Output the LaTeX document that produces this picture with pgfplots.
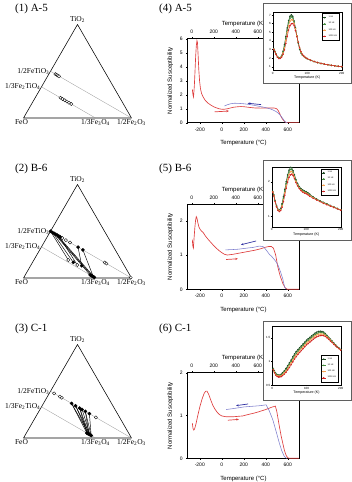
\documentclass[border=0pt]{standalone}
\usepackage{fontspec}
\setmainfont{Liberation Serif}
\setsansfont{Liberation Sans}
\usepackage{pgfplots}
\pgfplotsset{compat=1.18}
\usetikzlibrary{arrows.meta}

\definecolor{heat}{RGB}{222,62,62}
\definecolor{cool}{RGB}{125,125,205}
\definecolor{coolarrow}{RGB}{45,45,160}
\definecolor{hzA}{RGB}{30,75,35}
\definecolor{hzB}{RGB}{70,140,65}
\definecolor{hzC}{RGB}{245,160,80}
\definecolor{hzD}{RGB}{210,35,35}
\definecolor{frameg}{RGB}{95,95,95}
\definecolor{guide}{RGB}{150,150,150}

\tikzset{tlab/.style={font=\fontsize{7.5}{8}\selectfont, inner sep=1pt}}

\pgfplotsset{
  tern/.style={scale only axis, anchor=south west, width=108pt, height=93.5pt,
    xmin=0, xmax=1, ymin=0, ymax=0.866, hide axis, clip=false},
  openpt/.style={only marks, mark=*, mark size=1.6pt,
    mark options={fill=white, draw=black, line width=0.35pt}, forget plot},
  fillpt/.style={only marks, mark=*, mark size=1.6pt,
    mark options={fill=black, draw=black}, forget plot},
  tie/.style={black, line width=0.45pt, forget plot},
  mainax/.style={scale only axis, anchor=south west, width=111.6pt,
    xmin=-310, xmax=705, xtick={-200,0,200,400,600},
    xtick pos=left, ytick pos=left, tick align=outside, major tick length=1.5pt,
    tick style={line width=0.4pt, black}, axis line style={line width=0.45pt},
    tick label style={font=\sffamily\fontsize{5}{6}\selectfont},
    label style={font=\sffamily\fontsize{6}{7}\selectfont},
    /pgf/number format/assume math mode=true,
    xlabel={Temperature (°C)}, ylabel={Normalized Susceptibility},
    xlabel style={at={(axis description cs:0.5,0)}, anchor=center, yshift=-20.5pt},
    ylabel style={at={(axis description cs:-0.155,0.5)}, anchor=center}},
  topax/.style={scale only axis, anchor=south west, width=111.6pt,
    xmin=-37, xmax=978, ymin=0, ymax=1,
    axis x line=top, axis y line=none, x axis line style={-, line width=0.45pt},
    xtick={0,200,400,600}, tick align=outside, major tick length=1.5pt,
    tick style={line width=0.4pt, black},
    tick label style={font=\sffamily\fontsize{5}{6}\selectfont},
    label style={font=\sffamily\fontsize{6}{7}\selectfont},
    /pgf/number format/assume math mode=true,
    xlabel={Temperature (K)},
    xlabel style={at={(axis description cs:0.5,1)}, anchor=center, yshift=14.5pt}},
  insetax/.style={scale only axis, anchor=south west, xmin=0, xmax=200,
    xtick={0,100,200}, xtick pos=left, ytick pos=left, tick align=outside,
    major tick length=1pt, tick style={line width=0.3pt, black},
    axis line style={line width=0.35pt},
    tick label style={font=\sffamily\fontsize{3}{3.5}\selectfont, inner sep=0.8pt},
    label style={font=\sffamily\fontsize{3.6}{4}\selectfont},
    /pgf/number format/assume math mode=true,
    xlabel={Temperature (K)},
    xlabel style={at={(axis description cs:0.5,0)}, anchor=center, yshift=-8pt},
    legend style={font=\sffamily\fontsize{2.2}{2.6}\selectfont, draw=black,
      line width=0.25pt, inner sep=0.6pt, row sep=-0.8pt, cells={anchor=west}},
    legend image code/.code={\draw[mark repeat=2, mark phase=2, #1]
      plot coordinates {(0pt,0pt) (1.8pt,0pt) (3.6pt,0pt)};},
    every axis plot/.append style={line width=0.45pt, mark=*, mark size=0.5pt}},
  heating/.style={heat, line width=0.65pt},
  cooling/.style={cool, line width=0.55pt},
}

% triangle FeO - 1/2Fe2O3 - TiO2 with the two solid-solution joins
\newcommand{\ternframe}{%
  \addplot[black, line width=0.55pt, line join=round, forget plot]
    coordinates {(0,0) (1,0) (0.5,0.866) (0,0)};
  \addplot[guide, line width=0.3pt, forget plot] coordinates {(0.25,0.433) (1,0)};
  \addplot[guide, line width=0.3pt, forget plot] coordinates {(0.16667,0.28868) (0.66667,0)};
  \node[tlab, anchor=south, yshift=0.5pt] at (axis cs:0.5,0.866) {TiO\textsubscript{2}};
  \node[tlab, anchor=east] at (axis cs:0.25,0.433) {1/2FeTiO\textsubscript{3}};
  \node[tlab, anchor=east] at (axis cs:0.16667,0.28868) {1/3Fe\textsubscript{2}TiO\textsubscript{4}};
  \node[tlab, anchor=north, xshift=-2pt] at (axis cs:0,0) {FeO};
  \node[tlab, anchor=north] at (axis cs:0.66667,0) {1/3Fe\textsubscript{3}O\textsubscript{4}};
  \node[tlab, anchor=north] at (axis cs:1,0) {1/2Fe\textsubscript{2}O\textsubscript{3}};
}

\begin{document}
\begin{tikzpicture}
\path[use as bounding box] (0pt,0pt) rectangle (352pt,-482pt);

% ---------- panel titles ----------
\foreach \yy/\lt/\rt in {8.5/{(1) A-5}/{(4) A-5}, 168.5/{(2) B-6}/{(5) B-6}, 328.5/{(3) C-1}/{(6) C-1}}{
  \node[anchor=west, inner sep=0pt, font=\fontsize{11}{12}\selectfont] at (15pt,-\yy pt) {\lt};
  \node[anchor=west, inner sep=0pt, font=\fontsize{11}{12}\selectfont] at (159pt,-\yy pt) {\rt};
}

% ---------- (1) A-5 ternary ----------
\begin{axis}[tern, at={(23.5pt,-118pt)}]
\ternframe
\addplot[openpt] coordinates {(0.2950,0.4070) (0.3063,0.4005) (0.3175,0.3940) (0.3288,0.3875)};
\addplot[openpt] coordinates {(0.3417,0.1877) (0.3617,0.1761) (0.3817,0.1646) (0.4017,0.1530) (0.4217,0.1415) (0.4417,0.1299)};
\end{axis}

% ---------- (2) B-6 ternary ----------
\begin{axis}[tern, at={(23.5pt,-278pt)}]
\ternframe
\addplot[tie] coordinates {(0.2500,0.4330) (0.415,0.167)};
\addplot[tie] coordinates {(0.2688,0.4222) (0.461,0.145)};
\addplot[tie] coordinates {(0.2838,0.4135) (0.6167,0.0289)};
\addplot[tie] coordinates {(0.2988,0.4049) (0.6367,0.0173)};
\addplot[tie] coordinates {(0.3138,0.3962) (0.6567,0.0058)};
\addplot[tie] coordinates {(0.3288,0.3875) (0.498,0.120)};
\addplot[tie] coordinates {(0.5050,0.2858) (0.539,0.114)};
\addplot[tie] coordinates {(0.5500,0.2598) (0.6467,0.0115)};
\addplot[openpt] coordinates {(0.3588,0.3702) (0.3925,0.3507) (0.4300,0.3291) (0.7525,0.1429) (0.7675,0.1342) (0.9925,0.0043) (0.415,0.167) (0.498,0.120)};
\addplot[fillpt] coordinates {(0.2500,0.4330) (0.2688,0.4222) (0.2838,0.4135) (0.2988,0.4049) (0.3138,0.3962) (0.3288,0.3875) (0.3400,0.3810) (0.5050,0.2858) (0.5500,0.2598) (0.461,0.145) (0.539,0.114)};
\addplot[fillpt] coordinates {(0.6167,0.0289) (0.6267,0.0231) (0.6367,0.0173) (0.6467,0.0115) (0.6567,0.0058)};
\end{axis}

% ---------- (3) C-1 ternary ----------
\begin{axis}[tern, at={(23.5pt,-438pt)}]
\ternframe
\addplot[tie] coordinates {(0.4450,0.3204) (0.5867,0.0462)};
\addplot[tie] coordinates {(0.4450,0.3204) (0.6067,0.0346)};
\addplot[tie] coordinates {(0.4825,0.2988) (0.5967,0.0404)};
\addplot[tie] coordinates {(0.4825,0.2988) (0.6167,0.0289)};
\addplot[tie] coordinates {(0.5200,0.2771) (0.6067,0.0346)};
\addplot[tie] coordinates {(0.5200,0.2771) (0.5867,0.0462)};
\addplot[tie] coordinates {(0.5425,0.2641) (0.6167,0.0289)};
\addplot[tie] coordinates {(0.5725,0.2468) (0.6267,0.0231)};
\addplot[tie] coordinates {(0.5725,0.2468) (0.6067,0.0346)};
\addplot[tie] coordinates {(0.6100,0.2252) (0.6267,0.0231)};
\addplot[openpt] coordinates {(0.2838,0.4135) (0.3363,0.3832) (0.3550,0.3724) (0.6700,0.1905)};
\addplot[fillpt] coordinates {(0.4450,0.3204) (0.4825,0.2988) (0.5200,0.2771) (0.5425,0.2641) (0.5725,0.2468) (0.6100,0.2252)};
\addplot[fillpt] coordinates {(0.5867,0.0462) (0.5967,0.0404) (0.6067,0.0346) (0.6167,0.0289) (0.6267,0.0231)};
\end{axis}

% ================= (4) A-5 thermomagnetic curve =================
\begin{axis}[mainax, at={(187.7pt,-122.7pt)}, height=84.2pt, ymin=0, ymax=6.05, ytick={0,1,2,3,4,5,6}]
\addplot[heating] coordinates {
(-268,2.4) (-262,2.0) (-257,1.85) (-250,2.6) (-244,3.6) (-238,4.7) (-232,5.5) (-226,5.9)
(-221,5.75) (-215,4.8) (-209,3.8) (-202,3.0) (-194,2.45) (-184,2.1) (-170,1.85) (-150,1.6)
(-125,1.4) (-100,1.27) (-75,1.15) (-50,1.07) (-25,1.0) (0,0.97) (25,0.97) (50,1.0) (75,1.05)
(100,1.1) (125,1.13) (150,1.15) (175,1.16) (200,1.15) (250,1.1) (300,1.06) (350,1.05)
(400,1.06) (450,1.06) (480,1.05) (500,1.0) (515,0.85) (530,0.6) (545,0.35) (560,0.17)
(575,0.05) (590,0.0) (700,0)};
\addplot[cooling] coordinates {
(595,0) (585,0.02) (570,0.12) (555,0.3) (535,0.5) (515,0.68) (494,0.8) (470,0.9) (445,0.98)
(420,1.04) (390,1.1) (350,1.16) (300,1.24) (250,1.31) (200,1.36) (150,1.39) (115,1.4)
(80,1.36) (50,1.29) (25,1.2)};
\addplot[coolarrow, line width=0.7pt, -{Stealth[length=2.6pt,width=2.2pt]}] coordinates {(357,1.30) (236,1.40)};
\addplot[heat, line width=0.7pt, -{Stealth[length=2.6pt,width=2.2pt]}] coordinates {(-65,0.78) (65,0.84)};
\end{axis}
\begin{axis}[topax, at={(187.7pt,-122.7pt)}, height=84.2pt]
\end{axis}
\draw[fill=white, draw=frameg, line width=0.8pt] (263.3pt,-3.3pt) rectangle (351pt,-83.3pt);
\begin{axis}[insetax, at={(272.7pt,-70pt)}, width=69pt, height=58.3pt,
  ymin=0.62, ymax=7.38, ytick={1,2,3,4,5,6,7},
  legend style={at={(0.97,0.97)}, anchor=north east}]
\addplot[hzA] coordinates {(3,3.05) (6,2.8) (10,2.45) (14,2.15) (18,2.0) (22,2.05) (26,2.3) (30,2.8) (34,3.55) (38,4.5) (42,5.5) (46,6.35) (50,6.85) (54,7.02) (58,6.85) (62,6.3) (66,5.5) (70,4.6) (74,3.75) (78,3.0) (82,2.6) (86,2.35) (90,2.2) (95,2.05) (100,1.93) (110,1.74) (120,1.6) (130,1.48) (140,1.38) (150,1.3) (160,1.23) (170,1.16) (180,1.1) (190,1.05) (200,1.01)};
\addplot[hzB] coordinates {(3,3.05) (6,2.8) (10,2.45) (14,2.15) (18,2.0) (22,2.04) (26,2.27) (30,2.72) (34,3.4) (38,4.3) (42,5.25) (46,6.1) (50,6.6) (54,6.78) (58,6.68) (62,6.2) (66,5.45) (70,4.6) (74,3.8) (78,3.1) (82,2.65) (86,2.38) (90,2.2) (95,2.05) (100,1.93) (110,1.74) (120,1.6) (130,1.48) (140,1.38) (150,1.3) (160,1.23) (170,1.16) (180,1.1) (190,1.05) (200,1.01)};
\addplot[hzC] coordinates {(3,3.02) (6,2.78) (10,2.43) (14,2.13) (18,1.97) (22,2.0) (26,2.2) (30,2.6) (34,3.2) (38,4.05) (42,4.95) (46,5.75) (50,6.25) (54,6.45) (58,6.42) (62,6.05) (66,5.4) (70,4.6) (74,3.85) (78,3.15) (82,2.7) (86,2.4) (90,2.22) (95,2.06) (100,1.94) (110,1.75) (120,1.6) (130,1.48) (140,1.38) (150,1.3) (160,1.23) (170,1.16) (180,1.1) (190,1.05) (200,1.01)};
\addplot[hzD] coordinates {(3,3.0) (6,2.75) (10,2.4) (14,2.1) (18,1.95) (22,1.97) (26,2.12) (30,2.45) (34,2.95) (38,3.7) (42,4.5) (46,5.25) (50,5.75) (54,5.98) (58,6.0) (62,5.75) (66,5.2) (70,4.5) (74,3.85) (78,3.2) (82,2.75) (86,2.45) (90,2.25) (95,2.08) (100,1.95) (110,1.76) (120,1.61) (130,1.49) (140,1.39) (150,1.3) (160,1.23) (170,1.16) (180,1.1) (190,1.05) (200,1.01)};
\legend{1 Hz, 10 Hz, 100 Hz, 1000 Hz}
\end{axis}

% ================= (5) B-6 thermomagnetic curve =================
\begin{axis}[mainax, at={(187.7pt,-289.3pt)}, height=85pt, ymin=0, ymax=2.48, ytick={0,1,2}]
\addplot[heating] coordinates {
(-268,1.45) (-263,1.25) (-258,1.2) (-252,1.5) (-245,1.8) (-238,2.02) (-232,2.12) (-226,2.08)
(-218,1.95) (-208,1.82) (-197,1.75) (-185,1.7) (-170,1.66) (-150,1.56) (-125,1.46) (-100,1.37)
(-75,1.28) (-50,1.2) (-25,1.13) (0,1.07) (25,1.02) (50,1.0) (100,1.02) (150,1.05) (200,1.08)
(250,1.11) (300,1.14) (350,1.18) (400,1.23) (430,1.25) (450,1.25) (470,1.2) (490,1.0)
(510,0.65) (530,0.4) (555,0.17) (575,0.05) (595,0) (700,0)};
\addplot[cooling] coordinates {
(585,0) (570,0.08) (555,0.3) (535,0.5) (515,0.68) (494,0.8) (470,0.9) (450,0.97) (433,1.02)
(410,1.12) (390,1.2) (373,1.25) (340,1.26) (312,1.24) (280,1.22) (250,1.21) (200,1.19)
(150,1.17) (100,1.16) (33,1.15)};
\addplot[coolarrow, line width=0.7pt, -{Stealth[length=2.6pt,width=2.2pt]}] coordinates {(312,1.41) (175,1.30)};
\addplot[heat, line width=0.7pt, -{Stealth[length=2.6pt,width=2.2pt]}] coordinates {(40,0.87) (146,0.89)};
\end{axis}
\begin{axis}[topax, at={(187.7pt,-289.3pt)}, height=85pt]
\end{axis}
\draw[fill=white, draw=frameg, line width=0.8pt] (263.3pt,-160.7pt) rectangle (351pt,-240pt);
\begin{axis}[insetax, at={(271.7pt,-226.7pt)}, width=69pt, height=60pt,
  ymin=0.69, ymax=2.44, ytick={1,2},
  legend style={at={(0.97,0.97)}, anchor=north east}]
\addplot[hzA] coordinates {(3,1.72) (6,1.62) (10,1.45) (14,1.3) (18,1.2) (22,1.17) (26,1.22) (30,1.36) (34,1.56) (38,1.78) (42,2.0) (46,2.2) (50,2.34) (54,2.42) (58,2.41) (62,2.32) (66,2.2) (70,2.07) (75,1.95) (80,1.86) (85,1.8) (90,1.76) (95,1.73) (100,1.71) (105,1.68) (110,1.64) (120,1.56) (130,1.5) (140,1.45) (150,1.4) (160,1.36) (170,1.31) (180,1.27) (190,1.22) (200,1.18)};
\addplot[hzB] coordinates {(3,1.72) (6,1.61) (10,1.44) (14,1.29) (18,1.19) (22,1.16) (26,1.2) (30,1.33) (34,1.52) (38,1.73) (42,1.95) (46,2.14) (50,2.28) (54,2.36) (58,2.36) (62,2.28) (66,2.17) (70,2.05) (75,1.93) (80,1.84) (85,1.78) (90,1.74) (95,1.71) (100,1.69) (105,1.66) (110,1.62) (120,1.55) (130,1.49) (140,1.44) (150,1.39) (160,1.35) (170,1.3) (180,1.26) (190,1.22) (200,1.18)};
\addplot[hzC] coordinates {(3,1.71) (6,1.6) (10,1.43) (14,1.28) (18,1.18) (22,1.15) (26,1.18) (30,1.3) (34,1.48) (38,1.68) (42,1.89) (46,2.07) (50,2.21) (54,2.29) (58,2.3) (62,2.24) (66,2.14) (70,2.02) (75,1.91) (80,1.82) (85,1.76) (90,1.72) (95,1.69) (100,1.67) (105,1.64) (110,1.6) (120,1.54) (130,1.48) (140,1.43) (150,1.38) (160,1.34) (170,1.3) (180,1.26) (190,1.22) (200,1.18)};
\addplot[hzD] coordinates {(3,1.7) (6,1.59) (10,1.42) (14,1.27) (18,1.17) (22,1.13) (26,1.16) (30,1.26) (34,1.42) (38,1.61) (42,1.81) (46,1.99) (50,2.12) (54,2.2) (58,2.22) (62,2.18) (66,2.09) (70,1.98) (75,1.88) (80,1.8) (85,1.74) (90,1.7) (95,1.67) (100,1.65) (105,1.62) (110,1.58) (120,1.52) (130,1.47) (140,1.42) (150,1.37) (160,1.33) (170,1.29) (180,1.25) (190,1.21) (200,1.17)};
\legend{1 Hz, 10 Hz, 100 Hz, 1000 Hz}
\end{axis}

% ================= (6) C-1 thermomagnetic curve =================
\begin{axis}[mainax, at={(187.7pt,-458.3pt)}, height=85.6pt, ymin=0, ymax=2, ytick={0,1,2}]
\addplot[heating] coordinates {
(-268,0.82) (-262,0.7) (-255,0.66) (-248,0.68) (-235,0.8) (-220,0.98) (-200,1.2) (-180,1.38)
(-160,1.52) (-145,1.57) (-135,1.57) (-120,1.5) (-100,1.36) (-80,1.23) (-60,1.14) (-40,1.07)
(-20,1.02) (0,0.99) (40,0.97) (100,0.97) (190,0.99) (250,1.03) (300,1.06) (340,1.09)
(400,1.14) (450,1.19) (487,1.22) (500,1.1) (512,0.92) (524,0.74) (540,0.52) (555,0.35)
(570,0.18) (585,0.07) (600,0.01) (620,0) (700,0)};
\addplot[cooling] coordinates {
(590,0) (569,0.04) (545,0.18) (524,0.35) (495,0.62) (464,0.9) (430,1.12) (403,1.25) (350,1.23)
(300,1.22) (250,1.21) (200,1.2) (150,1.18) (100,1.16) (39,1.14)};
\addplot[coolarrow, line width=0.7pt, -{Stealth[length=2.6pt,width=2.2pt]}] coordinates {(240,1.27) (130,1.23)};
\addplot[heat, line width=0.7pt, -{Stealth[length=2.6pt,width=2.2pt]}] coordinates {(55,0.89) (155,0.91)};
\end{axis}
\begin{axis}[topax, at={(187.7pt,-458.3pt)}, height=85.6pt]
\end{axis}
\draw[fill=white, draw=frameg, line width=0.8pt] (263.3pt,-321.7pt) rectangle (351pt,-400.7pt);
\begin{axis}[insetax, at={(272.3pt,-385pt)}, width=68.4pt, height=59pt,
  ymin=0.5, ymax=1.75, ytick={0.5,1,1.5},
  legend style={at={(0.97,0.05)}, anchor=south east}]
\addplot[hzA] coordinates {(3,0.85) (6,0.8) (10,0.75) (14,0.72) (18,0.71) (22,0.71) (26,0.73) (30,0.76) (35,0.8) (40,0.85) (45,0.91) (50,0.97) (55,1.03) (60,1.1) (65,1.16) (70,1.21) (75,1.25) (80,1.29) (85,1.33) (90,1.37) (95,1.41) (100,1.45) (105,1.48) (110,1.51) (115,1.54) (120,1.57) (125,1.6) (130,1.62) (135,1.635) (140,1.64) (145,1.635) (150,1.62) (155,1.59) (160,1.55) (165,1.51) (170,1.47) (175,1.43) (180,1.39) (185,1.35) (190,1.31) (195,1.28) (200,1.25)};
\addplot[hzB] coordinates {(3,0.84) (6,0.79) (10,0.74) (14,0.71) (18,0.7) (22,0.7) (26,0.71) (30,0.74) (35,0.78) (40,0.82) (45,0.88) (50,0.94) (55,1.0) (60,1.06) (65,1.12) (70,1.17) (75,1.22) (80,1.26) (85,1.3) (90,1.34) (95,1.38) (100,1.42) (105,1.45) (110,1.48) (115,1.51) (120,1.54) (125,1.57) (130,1.59) (135,1.605) (140,1.61) (145,1.61) (150,1.6) (155,1.57) (160,1.54) (165,1.5) (170,1.46) (175,1.42) (180,1.38) (185,1.34) (190,1.31) (195,1.28) (200,1.25)};
\addplot[hzC] coordinates {(3,0.83) (6,0.78) (10,0.73) (14,0.7) (18,0.69) (22,0.69) (26,0.7) (30,0.72) (35,0.76) (40,0.8) (45,0.85) (50,0.91) (55,0.97) (60,1.03) (65,1.09) (70,1.14) (75,1.19) (80,1.23) (85,1.27) (90,1.31) (95,1.35) (100,1.39) (105,1.42) (110,1.45) (115,1.48) (120,1.51) (125,1.54) (130,1.56) (135,1.575) (140,1.58) (145,1.58) (150,1.575) (155,1.555) (160,1.52) (165,1.49) (170,1.45) (175,1.41) (180,1.37) (185,1.34) (190,1.3) (195,1.27) (200,1.245)};
\addplot[hzD] coordinates {(3,0.82) (6,0.76) (10,0.71) (14,0.68) (18,0.67) (22,0.67) (26,0.68) (30,0.7) (35,0.73) (40,0.77) (45,0.82) (50,0.87) (55,0.93) (60,0.99) (65,1.05) (70,1.1) (75,1.15) (80,1.19) (85,1.23) (90,1.27) (95,1.31) (100,1.35) (105,1.38) (110,1.41) (115,1.44) (120,1.47) (125,1.5) (130,1.52) (135,1.535) (140,1.545) (145,1.55) (150,1.545) (155,1.53) (160,1.5) (165,1.47) (170,1.43) (175,1.4) (180,1.36) (185,1.33) (190,1.3) (195,1.27) (200,1.24)};
\legend{1 Hz, 10 Hz, 100 Hz, 1000 Hz}
\end{axis}

\end{tikzpicture}
\end{document}
